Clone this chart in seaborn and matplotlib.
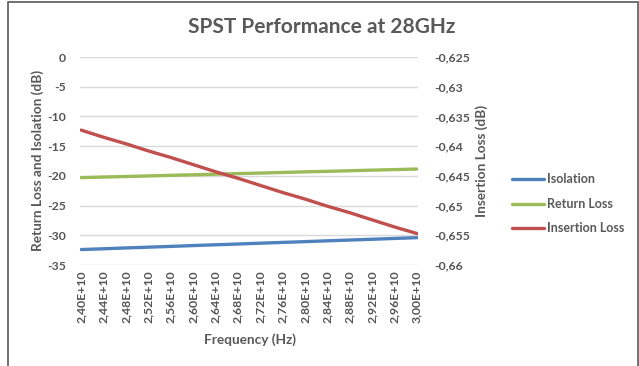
import matplotlib
matplotlib.use('Agg')
import matplotlib.pyplot as plt
import seaborn as sns
import numpy as np
import pandas as pd
from matplotlib.patches import Rectangle
from matplotlib.lines import Line2D

# Frequency categories and series
freq_labels = ['2,40E+10', '2,44E+10', '2,48E+10', '2,52E+10', '2,56E+10', '2,60E+10',
               '2,64E+10', '2,68E+10', '2,72E+10', '2,76E+10', '2,80E+10', '2,84E+10',
               '2,88E+10', '2,92E+10', '2,96E+10', '3,00E+10']
isolation = [-32.40, -32.27, -32.13, -32.00, -31.87, -31.73, -31.60, -31.47,
             -31.33, -31.20, -31.07, -30.93, -30.80, -30.67, -30.53, -30.40]
return_loss = [-20.30, -20.20, -20.11, -20.01, -19.91, -19.82, -19.72, -19.62,
               -19.53, -19.43, -19.33, -19.24, -19.14, -19.04, -18.95, -18.85]
insertion_loss = [-0.6373, -0.6385, -0.6396, -0.6408, -0.6419, -0.6431, -0.6443, -0.6454,
                  -0.6466, -0.6478, -0.6489, -0.6501, -0.6512, -0.6524, -0.6536, -0.6547]

left_ticks = [0, -5, -10, -15, -20, -25, -30, -35]
right_ticks = [-0.625, -0.63, -0.635, -0.64, -0.645, -0.65, -0.655, -0.66]
right_labels = ['-0,625', '-0,63', '-0,635', '-0,64', '-0,645', '-0,65', '-0,655', '-0,66']

df = pd.DataFrame({'pos': np.arange(len(freq_labels)), 'Isolation': isolation,
                   'Return Loss': return_loss, 'Insertion Loss': insertion_loss})

sns.set_style("white")
plt.rcParams['font.family'] = ['Lato', 'DejaVu Sans']
plt.rcParams['font.weight'] = 'bold'
gray = '#595959'
c_iso, c_ret, c_ins = '#4F81BD', '#9BBB59', '#C0504D'

fig = plt.figure(figsize=(6.39, 3.66), dpi=100)
ax = fig.add_axes([80 / 639, 1 - 265 / 366, 338 / 639, 208 / 366])
ax2 = ax.twinx()

sns.lineplot(data=df, x='pos', y='Isolation', ax=ax, color=c_iso, linewidth=2.4)
sns.lineplot(data=df, x='pos', y='Return Loss', ax=ax, color=c_ret, linewidth=2.4)
sns.lineplot(data=df, x='pos', y='Insertion Loss', ax=ax2, color=c_ins, linewidth=2.4)

ax.set_ylim(-35, 0)
ax2.set_ylim(-0.66, -0.625)
ax.set_xlim(-0.05, 15.05)
ax.set_yticks(left_ticks)
ax.set_yticklabels([str(t) for t in left_ticks])
ax2.set_yticks(right_ticks)
ax2.set_yticklabels(right_labels)
ax.set_xticks(df['pos'])
ax.set_xticklabels(freq_labels, rotation=90)
ax.yaxis.grid(True, color='#D9D9D9', linewidth=1)
ax.set_axisbelow(True)
for a in (ax, ax2):
    for s in a.spines.values():
        s.set_visible(False)
    a.tick_params(length=0, labelsize=8.8, labelcolor='#555555')
ax.tick_params(axis='x', pad=4)
ax.tick_params(axis='y', pad=10)
ax2.tick_params(axis='y', pad=12)

# axis titles placed where the reference has them
ax.set_xlabel('')
ax.set_ylabel('')
ax2.set_ylabel('')
fig.text(250 / 639, 1 - 340 / 366, 'Frequency (Hz)', ha='center', va='center',
         fontsize=9.8, fontweight='bold', color=gray)
fig.text(38 / 639, 1 - 160 / 366, 'Return Loss and Isolation (dB)', ha='center', va='center',
         rotation=90, fontsize=9.8, fontweight='bold', color=gray)
fig.text(482 / 639, 1 - 161 / 366, 'Insertion Loss (dB)', ha='center', va='center',
         rotation=90, fontsize=9.8, fontweight='bold', color=gray)
fig.text(322 / 639, 1 - 27 / 366, 'SPST Performance at 28GHz', ha='center', va='center',
         fontsize=15, fontweight='bold', color=gray)

handles = [Line2D([], [], color=c_iso, lw=2.4), Line2D([], [], color=c_ret, lw=2.4),
           Line2D([], [], color=c_ins, lw=2.4)]
fig.legend(handles, ['Isolation', 'Return Loss', 'Insertion Loss'], loc='center left',
           bbox_to_anchor=(501 / 639, 1 - 204 / 366), frameon=False,
           labelcolor=gray, handlelength=2.55, handletextpad=0.2, labelspacing=1.0,
           prop={'weight': 'bold', 'size': 9})

# outer chart border
fig.patches.append(Rectangle((8 / 639, -0.01), 630 / 639, 1.0 - 1.5 / 366 + 0.01,
                             transform=fig.transFigure, fill=False, edgecolor='#595959', linewidth=1.2))

fig.savefig('out.png', dpi=100)
